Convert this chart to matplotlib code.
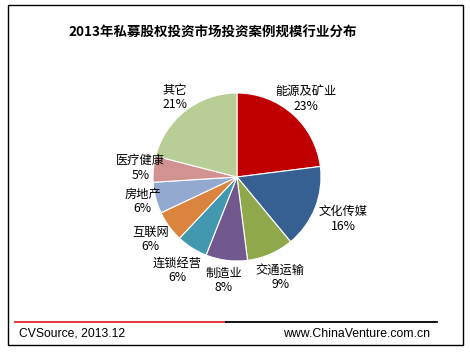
import numpy as np
import matplotlib.pyplot as plt
from matplotlib.patches import Rectangle

plt.rcParams['font.family'] = ['Noto Sans CJK SC', 'DejaVu Sans']

# industry shares, clockwise from 12 o'clock
industries = ['能源及矿业', '文化传媒', '交通运输', '制造业', '连锁经营',
              '互联网', '房地产', '医疗健康', '其它']
shares = [23, 16, 9, 8, 6, 6, 6, 5, 21]

colors = ['#C00000', '#376092', '#8FA84B', '#71588F', '#4198AF',
          '#DB843D', '#93A9CF', '#D19392', '#B9CD96']
# how far out each label sits (in radii)
label_r = [1.24, 1.36, 1.30, 1.24, 1.32, 1.27, 1.16, 1.15, 1.20]

fig = plt.figure(figsize=(4.7, 3.52), dpi=100)
ax = fig.add_axes([0, 0, 1, 1])

cx, cy, r = 237, 175, 84
wedges, _ = ax.pie(shares, colors=colors, startangle=90, counterclock=False,
                   center=(cx, cy), radius=r, frame=True,
                   wedgeprops=dict(edgecolor='white', linewidth=0.8))
ax.set_xlim(0, 470)
ax.set_ylim(0, 352)
ax.set_aspect('equal')
ax.axis('off')

for w, name, v, lr in zip(wedges, industries, shares, label_r):
    mid = np.deg2rad((w.theta1 + w.theta2) / 2)
    x = cx + lr * r * np.cos(mid)
    y = cy + lr * r * np.sin(mid)
    ax.text(x, y, f'{name}\n{v}%', ha='center', va='center', fontsize=8.8,
            linespacing=1.15, color='black')

# title
ax.text(68, 319, '2013年私募股权投资市场投资案例规模行业分布', ha='left',
        va='center', fontsize=9.7, fontweight='bold')

# frame and footer
ax.add_patch(Rectangle((8, 7), 455, 340, fill=False, edgecolor='black', lw=1))
ax.plot([15, 226], [30, 30], color='#E0262B', lw=1.3)
ax.plot([226, 437], [30, 30], color='black', lw=1.3)
ax.text(19, 18, 'CVSource, 2013.12', ha='left', va='center', fontsize=8.7,
        family=['Liberation Sans'])
ax.text(430, 18, 'www.ChinaVenture.com.cn', ha='right', va='center',
        fontsize=8.8, family=['Liberation Sans'])

fig.savefig('out.png', dpi=100)
